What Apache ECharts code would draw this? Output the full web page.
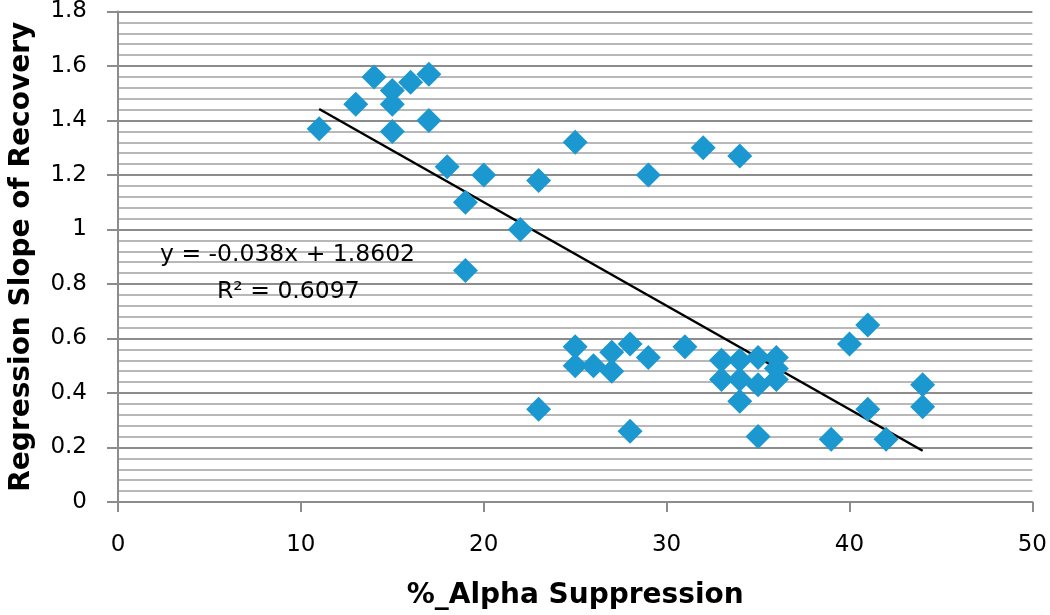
<!DOCTYPE html>
<html lang="en">

<head>
    <meta charset="UTF-8">
    <title>Regression Slope vs Alpha Suppression</title>
    <script type="text/javascript" src="https://cdn.jsdelivr.net/npm/echarts@6.0.0/dist/echarts.min.js"></script>
    <style>
        html, body { margin: 0; padding: 0; background: #fff; }
    </style>
</head>

<body>
<div id="main" style="width:1050px;height:615px;"></div>
</body>
<script type="text/javascript">
    // %_Alpha Suppression (x) and regression slope of recovery (y)
    const alphaSuppression = [
        11, 13, 14, 15, 15, 15, 16, 17, 17, 18,
        19, 19, 20, 22, 23, 23, 25, 25, 25, 26,
        27, 27, 28, 28, 29, 29, 31, 32, 33, 33,
        34, 34, 34, 34, 35, 35, 35, 36, 36, 36,
        39, 40, 41, 41, 42, 44, 44
    ];
    const recoverySlope = [
        1.37, 1.46, 1.56, 1.51, 1.46, 1.36, 1.54, 1.57, 1.40, 1.23,
        1.10, 0.85, 1.20, 1.00, 1.18, 0.34, 1.32, 0.57, 0.50, 0.50,
        0.55, 0.48, 0.58, 0.26, 1.20, 0.53, 0.57, 1.30, 0.52, 0.45,
        1.27, 0.52, 0.45, 0.37, 0.53, 0.43, 0.24, 0.53, 0.49, 0.45,
        0.23, 0.58, 0.65, 0.34, 0.23, 0.43, 0.35
    ];

    // linear trend line shown in the chart
    const trendSlope = -0.038;
    const trendIntercept = 1.8602;
    const trendRange = [11, 44];
    const trendLabel = 'y = -0.038x + 1.8602';
    const r2Label = 'R² = 0.6097';

    const xTicks = [0, 50, 10];   // min, max, interval
    const yTicks = [0, 1.8, 0.2];

    const fontFamily = "'DejaVu Sans', 'Liberation Sans', sans-serif";
    const pointColor = '#1b98d0';

    const myChart = echarts.init(document.getElementById('main'));

    const points = alphaSuppression.map((x, i) => [x, recoverySlope[i]]);
    const trendData = trendRange.map(x => [x, trendSlope * x + trendIntercept]);

    const option = {
        backgroundColor: '#fff',
        animation: false,
        grid: {
            left: 116,
            right: 15,
            top: 11,
            bottom: 112
        },
        xAxis: {
            type: 'value',
            min: xTicks[0],
            max: xTicks[1],
            interval: xTicks[2],
            name: '%_Alpha Suppression',
            nameLocation: 'middle',
            nameGap: 80,
            nameTextStyle: {
                fontFamily: fontFamily,
                fontWeight: 'bold',
                fontSize: 28,
                color: '#000'
            },
            axisLine: {
                lineStyle: { color: '#8c8c8c', width: 2 }
            },
            axisTick: {
                show: true,
                inside: false,
                length: 10,
                lineStyle: { color: '#8c8c8c', width: 2 }
            },
            axisLabel: {
                margin: 32,
                fontFamily: fontFamily,
                fontSize: 23,
                color: '#000'
            },
            splitLine: { show: false }
        },
        yAxis: {
            type: 'value',
            min: yTicks[0],
            max: yTicks[1],
            interval: yTicks[2],
            name: 'Regression Slope of Recovery',
            nameLocation: 'middle',
            nameGap: 82,
            nameTextStyle: {
                fontFamily: fontFamily,
                fontWeight: 'bold',
                fontSize: 28,
                color: '#000'
            },
            axisLine: {
                show: true,
                lineStyle: { color: '#8c8c8c', width: 2 }
            },
            axisTick: {
                show: true,
                inside: false,
                length: 11,
                lineStyle: { color: '#8c8c8c', width: 2 }
            },
            axisLabel: {
                margin: 31,
                fontFamily: fontFamily,
                fontSize: 23,
                color: '#000'
            },
            splitLine: {
                show: true,
                lineStyle: { color: '#8c8c8c', width: 2 }
            },
            minorTick: {
                show: false,
                splitNumber: 5
            },
            minorSplitLine: {
                show: true,
                lineStyle: { color: '#b8b8b8', width: 2 }
            }
        },
        graphic: [
            {
                type: 'text',
                left: 160,
                top: 243,
                z: 100,
                style: {
                    text: trendLabel,
                    fontFamily: fontFamily,
                    fontSize: 23.5,
                    fill: '#000'
                }
            },
            {
                type: 'text',
                left: 217,
                top: 280,
                z: 100,
                style: {
                    text: r2Label,
                    fontFamily: fontFamily,
                    fontSize: 23.5,
                    fill: '#000'
                }
            }
        ],
        series: [
            {
                name: 'trend',
                type: 'line',
                data: trendData,
                symbol: 'none',
                lineStyle: { color: '#000', width: 2.5 },
                z: 3
            },
            {
                name: 'points',
                type: 'scatter',
                data: points,
                symbol: 'diamond',
                symbolSize: 25,
                itemStyle: { color: pointColor, opacity: 1 },
                z: 4
            }
        ]
    };

    myChart.setOption(option);
</script>

</html>
